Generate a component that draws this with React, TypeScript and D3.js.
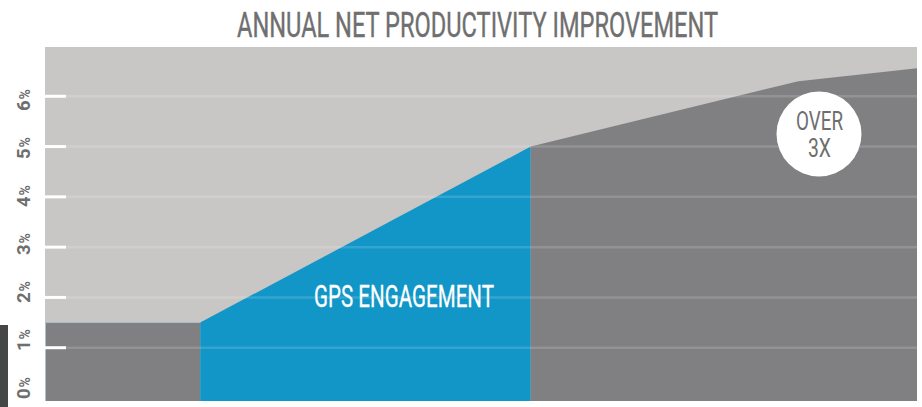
import React from "react";
import * as d3 from "d3";

const title = "ANNUAL NET PRODUCTIVITY IMPROVEMENT";
const yTicks = [0, 1, 2, 3, 4, 5, 6];
const baselineSeries = [
  { x: 0, y: 1.5 },
  { x: 17.8, y: 1.5 },
];
const gpsSeries = [
  { x: 17.8, y: 1.5 },
  { x: 55.7, y: 5.0 },
];
const overSeries = [
  { x: 55.7, y: 5.0 },
  { x: 86.4, y: 6.3 },
  { x: 100, y: 6.56 },
];
const gpsLabel = "GPS ENGAGEMENT";
const badgeLines = ["OVER", "3X"];

const W = 922;
const H = 407;
const left = 45;
const right = 917;
const top = 47;
const bottom = 401;

const FONT = "Roboto, 'DejaVu Sans Condensed', sans-serif";

export default function App() {
  const x = d3.scaleLinear().domain([0, 100]).range([left, right]);
  const y = d3.scaleLinear().domain([0, 7]).range([398, 46]);
  const labelY = d3.scaleLinear().domain([0, 6]).range([388, 100]);

  const area = d3
    .area<{ x: number; y: number }>()
    .x((d) => x(d.x))
    .y0(bottom)
    .y1((d) => y(d.y));

  return (
    <svg
      width={W}
      height={H}
      style={{ position: "absolute", left: 0, top: 0, display: "block" }}
    >
      <rect x={0} y={0} width={W} height={H} fill="#ffffff" />
      <text
        x={(237 + 718) / 2}
        y={37}
        textAnchor="middle"
        fontFamily={FONT}
        fontWeight={400}
        fontSize={35.5}
        fill="#6f6f6f"
        stroke="#6f6f6f"
        strokeWidth={0.4}
        textLength={481}
        lengthAdjust="spacingAndGlyphs"
      >
        {title}
      </text>

      <rect x={left} y={top} width={right - left} height={bottom - top} fill="#c8c7c5" />
      <path d={area(baselineSeries) || ""} fill="#808083" />
      <path d={area(gpsSeries) || ""} fill="#1196c7" />
      <path d={area(overSeries) || ""} fill="#808083" />
      <line x1={left + 0.5} x2={left + 0.5} y1={y(1.5)} y2={bottom} stroke="#a9c3cc" strokeWidth={1} />
      <line x1={left} x2={x(17.8)} y1={y(1.5)} y2={y(1.5)} stroke="#a9c3cc" strokeWidth={0.8} />

      {yTicks.filter((t) => t > 0).map((t) => (
        <g key={t}>
          <line
            x1={66}
            x2={right}
            y1={y(t)}
            y2={y(t)}
            stroke="#ffffff"
            strokeOpacity={0.15}
            strokeWidth={2.5}
          />
          <line x1={left} x2={66} y1={y(t)} y2={y(t)} stroke="#ffffff" strokeWidth={3} />
        </g>
      ))}

      {yTicks.map((t) => (
        <text
          key={t}
          transform={`translate(30,${labelY(t)}) rotate(-90)`}
          textAnchor="middle"
          fontFamily={FONT}
          fontWeight="bold"
          fill="#6e6e6e"
        >
          <tspan fontSize={18.5}>{t}</tspan>
          <tspan fontSize={14} dx={1}>%</tspan>
        </text>
      ))}

      <rect x={0} y={325} width={8} height={H - 325} fill="#454646" />

      <text
        x={(314 + 494) / 2}
        y={307}
        textAnchor="middle"
        fontFamily={FONT}
        fontWeight={400}
        fontSize={32}
        fill="#ffffff"
        stroke="#ffffff"
        strokeWidth={0.3}
        textLength={180}
        lengthAdjust="spacingAndGlyphs"
      >
        {gpsLabel}
      </text>

      <circle cx={819} cy={134} r={42.5} fill="#ffffff" />
      <text
        x={819.5}
        y={130}
        textAnchor="middle"
        fontFamily={FONT}
        fontWeight={400}
        fontSize={26}
        fill="#6e6e6e"
        textLength={47}
        lengthAdjust="spacingAndGlyphs"
      >
        {badgeLines[0]}
      </text>
      <text
        x={819.5}
        y={157}
        textAnchor="middle"
        fontFamily={FONT}
        fontWeight={400}
        fontSize={26}
        fill="#6e6e6e"
        textLength={23}
        lengthAdjust="spacingAndGlyphs"
      >
        {badgeLines[1]}
      </text>
    </svg>
  );
}
